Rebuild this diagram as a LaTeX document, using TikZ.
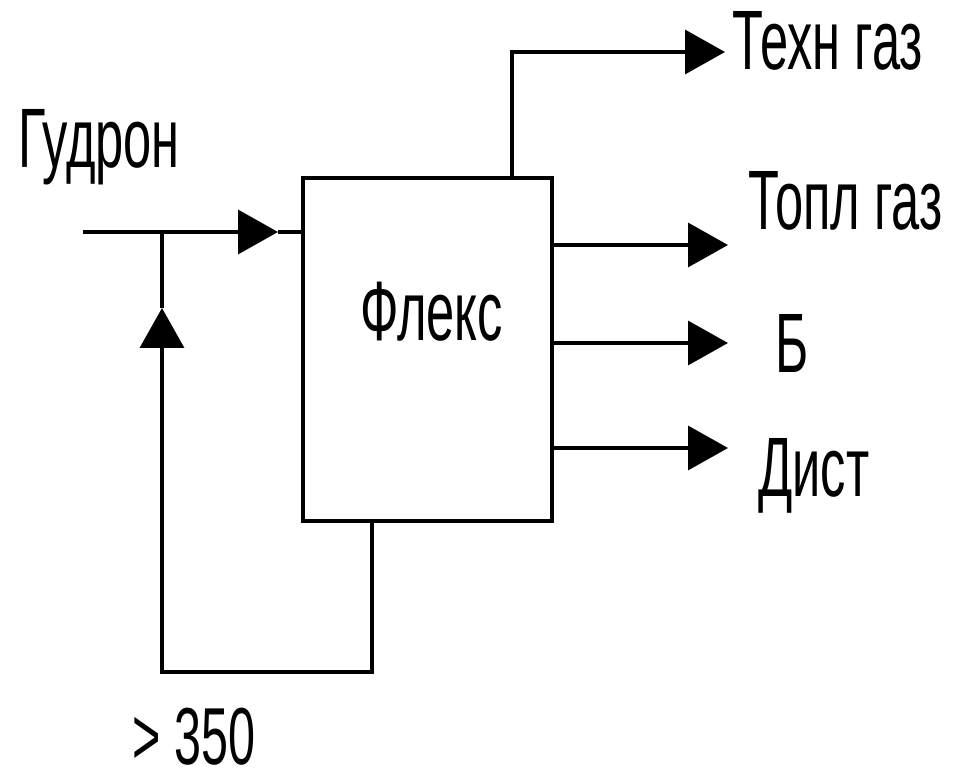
\documentclass[tikz,border=0pt]{standalone}
\usepackage{fontspec}
\setmainfont{Liberation Sans}[FakeStretch=0.6]
\usetikzlibrary{arrows.meta,positioning,calc}
\tikzset{
  pipe/.style={line width=2pt},
  flow/.style={pipe, -{Triangle[length=0.8cm,width=0.88cm]}},
  lab/.style={font=\fontsize{48}{50}\selectfont, inner sep=0pt, anchor=base west},
}
\begin{document}
\begin{tikzpicture}[x=0.02cm,y=-0.02cm]
  \useasboundingbox (0,0) rectangle (965,784);
  % unit
  \node[draw, pipe, minimum width=4.98cm, minimum height=6.86cm, inner sep=0pt] (flex) at (427.5,349.5) {};
  \node[lab] (flexlab) at (360,340) {Флекс};
  % labels
  \node[lab] (gudron) at (18,168) {Гудрон};
  \node[lab] (tekhn) at (732,70) {Техн газ};
  \node[lab] (topl) at (748,230) {Топл газ};
  \node[lab] (bnz) at (775,373) {Б};
  \node[lab] (dist) at (758,497) {Дист};
  \node[lab, font=\fontsize{46}{48}\selectfont] (hot) at (132,764) {> 350};
  % feed
  \coordinate (feed) at (83,232);
  \coordinate (join) at (162,232);
  \coordinate (feedtip) at (278,232);
  \draw[pipe] (feed) -- (join);
  \draw[flow] (join) -- (feedtip);
  \draw[pipe] (feedtip) -- (feedtip -| flex.west);
  % products
  \coordinate (gastop) at (512,178);
  \coordinate (gasend) at (725,52);
  \draw[flow] (gastop) |- (gasend);
  \foreach \y in {245,343,448} {
    \draw[flow] (flex.east |- 0,\y) -- (728,\y);
  }
  % recycle
  \coordinate (recbot) at (372,521);
  \coordinate (recup) at (162,358);
  \coordinate (rectip) at (162,308);
  \draw[pipe] (recbot) |- (162,672) -- (recup);
  \draw[flow] (recup) -- (rectip);
  \draw[pipe] (rectip) -- (join);
\end{tikzpicture}
\end{document}
